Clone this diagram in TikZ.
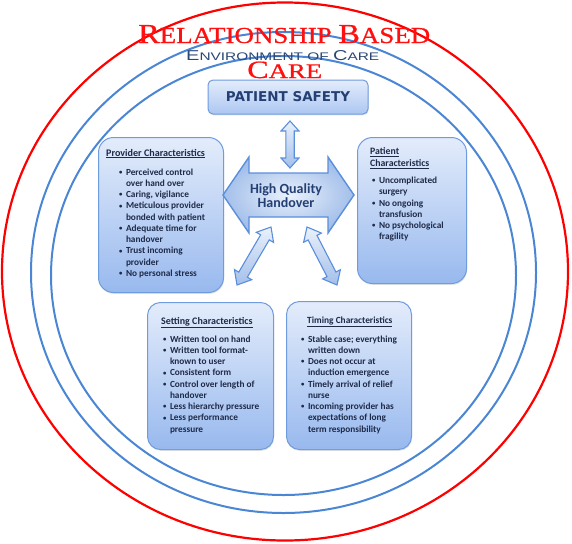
\documentclass[tikz,border=0pt]{standalone}
\usepackage{graphicx}
\usepackage{fontspec}
\setmainfont{Carlito}
\newfontface\titlefont{Liberation Serif}[FakeBold=0.7]
\newfontfamily\envfont{Liberation Sans}
\newfontfamily\psfont{DejaVu Sans}
\usetikzlibrary{calc,shadows}
\definecolor{circblue}{HTML}{4A86D4}
\definecolor{titlered}{HTML}{FF1010}
\definecolor{envblue}{HTML}{2A4674}
\definecolor{boxtop}{HTML}{E3ECFB}
\definecolor{boxbot}{HTML}{98B9EE}
\definecolor{boxline}{HTML}{6F9CDF}
\definecolor{txt}{HTML}{1E2A48}
\definecolor{hubtxt}{HTML}{243F73}
\definecolor{arrline}{HTML}{5A8FDB}
\definecolor{arrin}{HTML}{EAF1FB}
\definecolor{arrout}{HTML}{A3BFEA}
\newcommand{\bl}[1]{\makebox[6.8pt][l]{\raisebox{0.6pt}{\scalebox{0.72}{\textbullet}}}#1}
\newcommand{\cl}[1]{\hspace*{6.8pt}#1}
\newcommand{\fatarrow}[6]{%
  \path[#1] (#2) -- ($(#2)!#4!(#3)!#5!90:(#3)$) -- ($(#2)!#4!(#3)!#6!90:(#3)$)
   -- ($(#3)!#4!(#2)!#6!-90:(#2)$) -- ($(#3)!#4!(#2)!#5!-90:(#2)$) -- (#3)
   -- ($(#3)!#4!(#2)!#5!90:(#2)$) -- ($(#3)!#4!(#2)!#6!90:(#2)$)
   -- ($(#2)!#4!(#3)!#6!-90:(#3)$) -- ($(#2)!#4!(#3)!#5!-90:(#3)$) -- cycle;}
\tikzset{
  charbox/.style={draw=boxline, line width=1pt, top color=boxtop, bottom color=boxbot,
    drop shadow={opacity=0.22, shadow xshift=0.6pt, shadow yshift=-1.4pt}, inner sep=0pt, anchor=north west},
  boxtitle/.style={anchor=base west, inner sep=0pt, text=txt},
  boxlist/.style={anchor=base west, inner sep=0pt, text=txt, font=\fontsize{9.3}{11.25}\selectfont\bfseries},
  arrowfill/.style={draw=arrline, line width=1.1pt, top color=arrin, bottom color=arrout},
}
\begin{document}
\begin{tikzpicture}[x=1pt,y=-1pt]
\useasboundingbox (0,0) rectangle (572,543);
% circles
\draw[red, line width=2.2pt] (285,271.5) ellipse [x radius=283pt, y radius=269pt];
\draw[circblue, line width=2pt] (283.5,272.5) ellipse [x radius=252.5pt, y radius=240.5pt];
\draw[circblue, line width=2pt] (283.5,275.5) ellipse [x radius=232.5pt, y radius=219.5pt];
% titles
\node[anchor=base west, inner sep=0pt, text=titlered] (t1) at (138,43)
  {\resizebox{292pt}{18pt}{\titlefont\fontsize{27}{27}\selectfont R\fontsize{22.5}{22.5}\selectfont ELATIONSHIP \fontsize{27}{27}\selectfont B\fontsize{22.5}{22.5}\selectfont ASED}};
\node[anchor=base west, inner sep=0pt, text=titlered] (t2) at (247,78)
  {\resizebox{75pt}{16.5pt}{\titlefont\fontsize{27}{27}\selectfont C\fontsize{22.5}{22.5}\selectfont ARE}};
\node[anchor=base west, inner sep=0pt, text=envblue] (t3) at (186,60)
  {\resizebox{193pt}{10pt}{\envfont\fontsize{13}{13}\selectfont E\fontsize{10}{10}\selectfont NVIRONMENT OF \fontsize{13}{13}\selectfont C\fontsize{10}{10}\selectfont ARE}};
% patient safety
\node[draw=boxline, line width=1pt, rounded corners=5pt, top color=boxtop, bottom color=boxbot!80!white,
  drop shadow={opacity=0.22, shadow xshift=0.6pt, shadow yshift=-1.4pt},
  minimum width=160pt, minimum height=34pt, inner sep=0pt,
  font=\psfont\bfseries\fontsize{13.5}{14}\selectfont, text=hubtxt] (ps) at (288,97) {PATIENT SAFETY};
% boxes
\node[charbox, rounded corners=15pt, minimum width=125pt, minimum height=155pt] (prov) at (98,137) {};
\node[charbox, rounded corners=15pt, minimum width=109pt, minimum height=146pt] (pat) at (357,137) {};
\node[charbox, rounded corners=13pt, minimum width=126pt, minimum height=147pt] (set) at (147,302) {};
\node[charbox, rounded corners=13pt, minimum width=125pt, minimum height=148pt] (tim) at (286,301) {};
% provider
\node[boxtitle, font=\fontsize{10.1}{12}\selectfont\bfseries] (provt) at (106,156) {\underline{Provider Characteristics}};
\node[boxlist] (provl) at (119,175) {\begin{tabular}[t]{@{}l@{}}
\bl{Perceived control}\\ \cl{over hand over}\\ \bl{Caring, vigilance}\\ \bl{Meticulous provider}\\
\cl{bonded with patient}\\ \bl{Adequate time for}\\ \cl{handover}\\ \bl{Trust incoming}\\ \cl{provider}\\
\bl{No personal stress}\end{tabular}};
% patient
\node[boxtitle, font=\fontsize{9.8}{12}\selectfont\bfseries] (patt) at (370,154.5) {\begin{tabular}[t]{@{}l@{}}\underline{Patient}\\ \underline{Characteristics}\end{tabular}};
\node[boxlist] (patl) at (372,183.5) {\begin{tabular}[t]{@{}l@{}}
\bl{Uncomplicated}\\ \cl{surgery}\\ \bl{No ongoing}\\ \cl{transfusion}\\ \bl{No psychological}\\ \cl{fragility}\end{tabular}};
% setting
\node[boxtitle, font=\fontsize{10}{12}\selectfont\bfseries] (sett) at (161,324) {\underline{Setting Characteristics}};
\node[boxlist] (setl) at (163,342) {\begin{tabular}[t]{@{}l@{}}
\bl{Written tool on hand}\\ \bl{Written tool format-}\\ \cl{known to user}\\ \bl{Consistent form}\\
\bl{Control over length of}\\ \cl{handover}\\ \bl{Less hierarchy pressure}\\ \bl{Less performance}\\ \cl{pressure}\end{tabular}};
% timing
\node[boxtitle, font=\fontsize{9.4}{11}\selectfont\bfseries] (timt) at (307,323) {\underline{Timing Characteristics}};
\node[boxlist] (timl) at (301,342) {\begin{tabular}[t]{@{}l@{}}
\bl{Stable case; everything}\\ \cl{written down}\\ \bl{Does not occur at}\\ \cl{induction emergence}\\
\bl{Timely arrival of relief}\\ \cl{nurse}\\ \bl{Incoming provider has}\\ \cl{expectations of long}\\ \cl{term responsibility}\end{tabular}};
% hub arrow
\coordinate (hubL) at (223,195);
\coordinate (hubR) at (354,195);
\fatarrow{draw=arrline, line width=1.4pt, inner color=arrin, outer color=arrout}{hubL}{hubR}{26pt}{38pt}{22pt}
\node[font=\fontsize{14}{14}\selectfont\bfseries, text=hubtxt, align=center, inner sep=0pt] (hub) at (286,196) {High Quality\\Handover};
% connector arrows
\coordinate (v1) at (290,121);
\coordinate (v2) at (290,168);
\fatarrow{arrowfill}{v1}{v2}{10pt}{9pt}{4.2pt}
\coordinate (dl1) at (271,227);
\coordinate (dl2) at (237,285);
\fatarrow{arrowfill}{dl1}{dl2}{12pt}{10pt}{5pt}
\coordinate (dr1) at (307,227);
\coordinate (dr2) at (337,285);
\fatarrow{arrowfill}{dr1}{dr2}{12pt}{10pt}{5pt}
\end{tikzpicture}
\end{document}
